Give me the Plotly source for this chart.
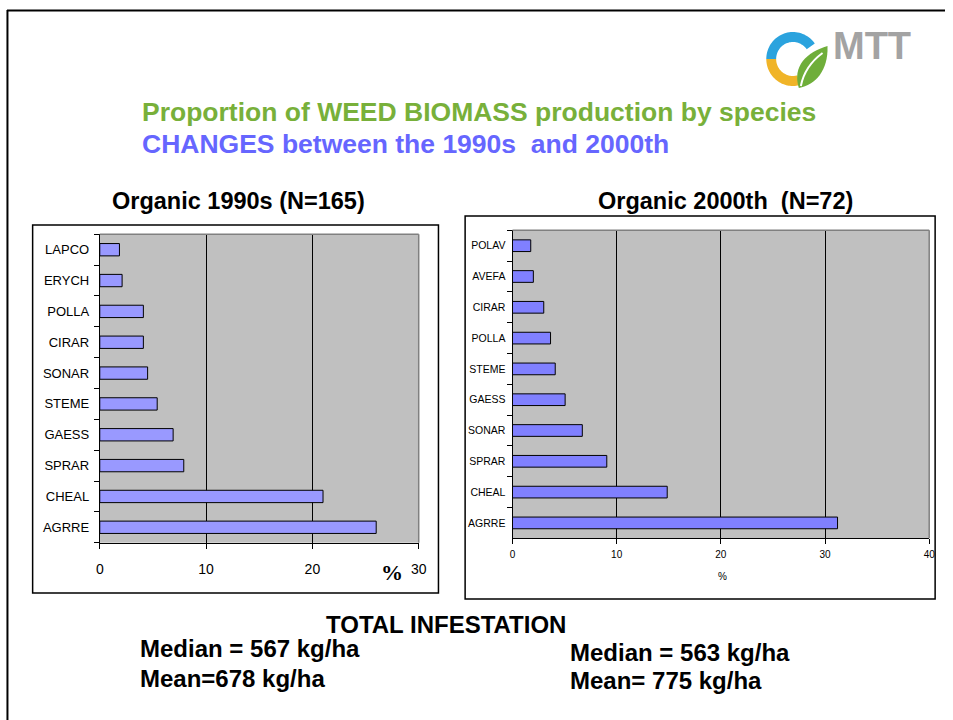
import numpy as np
import plotly.graph_objects as go

W, H = 953, 720

# ---------------- data ----------------
species_1990s = ["AGRRE", "CHEAL", "SPRAR", "GAESS", "STEME", "SONAR", "CIRAR", "POLLA", "ERYCH", "LAPCO"]
share_1990s = [26.0, 21.0, 7.9, 6.9, 5.4, 4.5, 4.1, 4.1, 2.1, 1.85]

species_2000th = ["AGRRE", "CHEAL", "SPRAR", "SONAR", "GAESS", "STEME", "POLLA", "CIRAR", "AVEFA", "POLAV"]
share_2000th = [31.2, 14.85, 9.05, 6.7, 5.05, 4.1, 3.65, 3.0, 2.0, 1.75]

ticks_1990s = [0, 10, 20, 30]
ticks_2000th = [0, 10, 20, 30, 40]

FONT = "Arial, Liberation Sans, sans-serif"


def px(x):
    return x / W


def py(y):
    return 1 - y / H


fig = go.Figure()

fig.add_trace(go.Bar(
    x=share_1990s, y=species_1990s, orientation="h", width=0.4,
    marker=dict(color="#9999FF", line=dict(color="black", width=1)),
    xaxis="x", yaxis="y", showlegend=False, hoverinfo="x+y"))

fig.add_trace(go.Bar(
    x=share_2000th, y=species_2000th, orientation="h", width=0.38,
    marker=dict(color="#8080FF", line=dict(color="black", width=1)),
    xaxis="x2", yaxis="y2", showlegend=False, hoverinfo="x+y"))

# plot areas (pixel positions)
L = dict(x0=97, x1=420, y0=234.3, y1=542.7)
R = dict(x0=515, x1=937, y0=230.3, y1=538.3)

common_x = dict(showgrid=True, gridcolor="black", gridwidth=1, zeroline=False,
                showline=True, linecolor="black", linewidth=1,
                ticks="outside", ticklen=5, tickcolor="black")
common_y = dict(type="category", showgrid=False, zeroline=False, showline=True,
                linecolor="black", linewidth=1, ticks="outside", ticklen=5,
                tickcolor="black", tickson="boundaries")

fig.update_layout(
    width=W, height=H, autosize=False,
    margin=dict(l=0, r=0, t=0, b=0),
    paper_bgcolor="white", plot_bgcolor="#C0C0C0",
    font=dict(family=FONT, color="black"),
    xaxis=dict(domain=[px(L["x0"]), px(L["x1"])], anchor="y", range=[0, 30],
               tickvals=ticks_1990s, tickfont=dict(size=14, family=FONT, color="black"),
               ticklabelstandoff=8, **common_x),
    yaxis=dict(domain=[py(L["y1"]), py(L["y0"])], anchor="x",
               categoryorder="array", categoryarray=species_1990s,
               tickfont=dict(size=13, family=FONT, color="black"),
               ticklabelstandoff=7, **common_y),
    xaxis2=dict(domain=[px(R["x0"]), px(R["x1"])], anchor="y2", range=[0, 40],
                tickvals=ticks_2000th, tickfont=dict(size=10, family=FONT, color="black"),
                ticklabelstandoff=2, **common_x),
    yaxis2=dict(domain=[py(R["y1"]), py(R["y0"])], anchor="x2",
                categoryorder="array", categoryarray=species_2000th,
                tickfont=dict(size=10.5, family=FONT, color="black"),
                ticklabelstandoff=4, **common_y),
)

shapes = []
# outer slide frame
shapes.append(dict(type="line", xref="paper", yref="paper", x0=px(3), x1=px(953), y0=py(10.5), y1=py(10.5),
                   line=dict(color="black", width=2)))
shapes.append(dict(type="line", xref="paper", yref="paper", x0=px(3.5), x1=px(3.5), y0=py(10), y1=py(720),
                   line=dict(color="black", width=2)))
# chart boxes
shapes.append(dict(type="rect", xref="paper", yref="paper", x0=px(29), x1=px(440), y0=py(225), y1=py(593),
                   line=dict(color="black", width=1.5), layer="below"))
shapes.append(dict(type="rect", xref="paper", yref="paper", x0=px(467), x1=px(943), y0=py(216), y1=py(599),
                   line=dict(color="black", width=1.5), layer="below"))
# gray top/right plot-area borders
for P in (L, R):
    shapes.append(dict(type="line", xref="paper", yref="paper", x0=px(P["x0"]), x1=px(P["x1"]),
                       y0=py(P["y0"]), y1=py(P["y0"]), line=dict(color="#808080", width=1.5), layer="above"))
    shapes.append(dict(type="line", xref="paper", yref="paper", x0=px(P["x1"]), x1=px(P["x1"]),
                       y0=py(P["y0"]), y1=py(P["y1"]), line=dict(color="#808080", width=1.5), layer="above"))

# logo: ring "C"
cx, cy, ro, ri = 799, 59, 27, 17


def arc_path(a0, a1):
    a = np.radians(np.linspace(a0, a1, 40))
    outer = [(cx + ro * np.cos(t), cy - ro * np.sin(t)) for t in a]
    inner = [(cx + ri * np.cos(t), cy - ri * np.sin(t)) for t in a[::-1]]
    pts = outer + inner
    return "M " + " L ".join(f"{px(x):.5f},{py(y):.5f}" for x, y in pts) + " Z"


shapes.append(dict(type="path", xref="paper", yref="paper", path=arc_path(35, 180),
                   fillcolor="#2BA3DE", line=dict(width=0)))
shapes.append(dict(type="path", xref="paper", yref="paper", path=arc_path(180, 285),
                   fillcolor="#F0B428", line=dict(width=0)))
leaf = [(805, 88), (798, 66), (813, 52), (834, 46), (835, 70), (822, 85), (805, 88)]
leaf_path = (f"M {px(leaf[0][0])},{py(leaf[0][1])} "
             f"C {px(leaf[1][0])},{py(leaf[1][1])} {px(leaf[2][0])},{py(leaf[2][1])} {px(leaf[3][0])},{py(leaf[3][1])} "
             f"C {px(leaf[4][0])},{py(leaf[4][1])} {px(leaf[5][0])},{py(leaf[5][1])} {px(leaf[6][0])},{py(leaf[6][1])} Z")
shapes.append(dict(type="path", xref="paper", yref="paper", path=leaf_path,
                   fillcolor="#6FAE3A", line=dict(width=0)))
vein = f"M {px(807)},{py(86)} Q {px(811)},{py(66)} {px(829)},{py(53)}"
shapes.append(dict(type="path", xref="paper", yref="paper", path=vein,
                   line=dict(color="white", width=2)))
fig.update_layout(shapes=shapes)

ann = []


def text(x, y, s, size, color="black", bold=True, xanchor="left", family=FONT):
    ann.append(dict(xref="paper", yref="paper", x=px(x), y=py(y), text=(f"<b>{s}</b>" if bold else s),
                    showarrow=False, xanchor=xanchor, yanchor="middle",
                    font=dict(size=size, color=color, family=family)))


text(879, 46, "MTT", 38, color="#A3A3A3", xanchor="center")
text(138, 112, "Proportion of WEED BIOMASS production by species", 26.5, color="#78B03A")
text(138, 144, "CHANGES between the 1990s  and 2000th", 26.5, color="#6666FF")
text(237, 201, "Organic 1990s (N=165)", 23.5, xanchor="center")
text(731, 201, "Organic 2000th  (N=72)", 23.5, xanchor="center")
text(393, 572, "%", 22, family="Liberation Serif, Times New Roman, serif", xanchor="center")
text(728, 576, "%", 10, bold=False, xanchor="center")
text(448, 624, "TOTAL INFESTATION", 24, xanchor="center")
text(136, 648, "Median = 567 kg/ha", 24)
text(136, 678, "Mean=678 kg/ha", 24)
text(571, 652, "Median = 563 kg/ha", 24)
text(571, 680, "Mean= 775 kg/ha", 24)
fig.update_layout(annotations=ann)

fig.write_html(
    "out.html",
    config={"displayModeBar": False},
    post_script=(
        "document.documentElement.style.margin='0';document.documentElement.style.overflow='hidden';"
        "document.body.style.margin='0';document.body.style.padding='0';document.body.style.overflow='hidden';"
    ),
)
